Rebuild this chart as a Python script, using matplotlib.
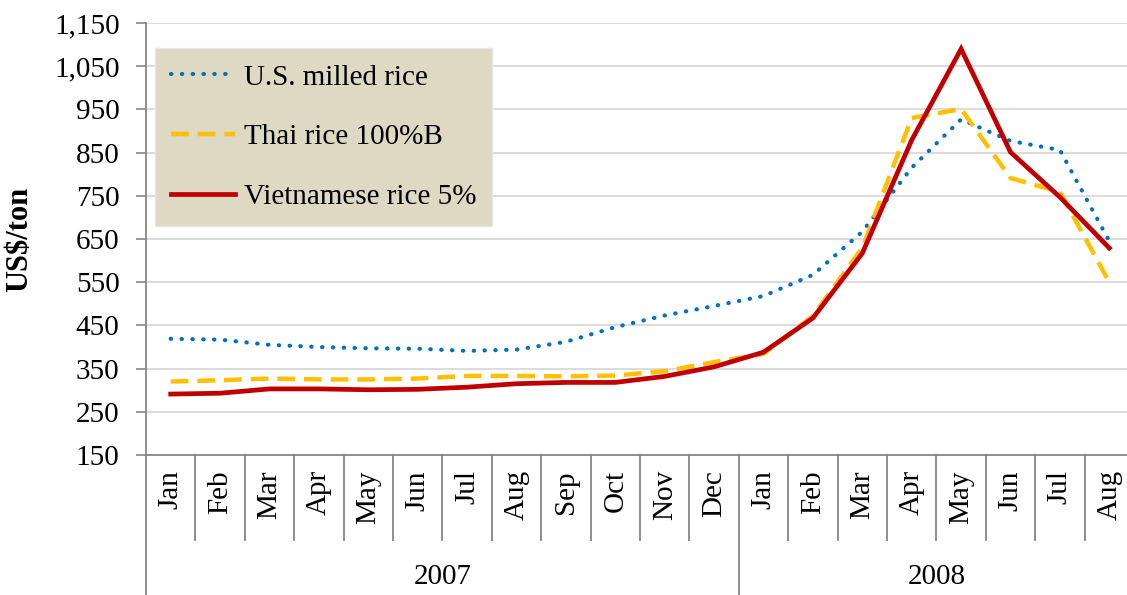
import matplotlib
matplotlib.use("Agg")
import matplotlib.pyplot as plt
import matplotlib.transforms as mtransforms
from matplotlib.ticker import FuncFormatter

months = ["Jan", "Feb", "Mar", "Apr", "May", "Jun", "Jul", "Aug", "Sep", "Oct", "Nov", "Dec",
          "Jan", "Feb", "Mar", "Apr", "May", "Jun", "Jul", "Aug"]
years = ["2007", "2008"]
year_counts = [12, 8]
y_ticks = [150, 250, 350, 450, 550, 650, 750, 850, 950, 1050, 1150]

us_milled = [419, 417, 405, 400, 397, 396, 391, 394, 412, 446, 473, 495,
             518, 567, 667, 815, 927, 877, 856, 645]
thai_100b = [320, 323, 327, 325, 325, 327, 333, 333, 332, 334, 344, 365,
             384, 472, 630, 930, 951, 791, 759, 550]
viet_5 = [291, 293, 303, 303, 301, 302, 307, 315, 318, 318, 332, 354,
          388, 467, 617, 879, 1090, 851, 747, 629]

plt.rcParams["font.family"] = ["Liberation Serif", "DejaVu Serif"]
axis_gray = "#868686"
fs = 21

fig = plt.figure(figsize=(11.27, 5.95), dpi=100)
ax = fig.add_axes([146 / 1127, 140 / 595, 988 / 1127, 432 / 595])

x = list(range(len(months)))
ax.plot(x, us_milled, color="#0070C0", lw=3.0, linestyle=(0, (0.1, 2.5)),
        dash_capstyle="round", label="U.S. milled rice", zorder=3)
ax.plot(x, thai_100b, color="#FFC000", lw=3.2, linestyle=(0, (4.0, 2.0)),
        label="Thai rice 100%B", zorder=3)
ax.plot(x, viet_5, color="#C00000", lw=3.4, solid_joinstyle="miter",
        label="Vietnamese rice 5%", zorder=4)

ax.set_xlim(-0.5, len(months) - 0.5)
ax.set_ylim(150, 1150)
ax.set_yticks(y_ticks)
ax.yaxis.set_major_formatter(FuncFormatter(lambda v, p: f"{v:,.0f}"))
ax.grid(axis="y", color="#D9D9D9", lw=1.3)
ax.set_axisbelow(True)
ax.tick_params(axis="y", direction="out", length=7, width=1.2, color=axis_gray,
               labelsize=fs, pad=12)
ax.tick_params(axis="x", length=0, labelbottom=False)
for side in ["top", "right"]:
    ax.spines[side].set_visible(False)
for side in ["left", "bottom"]:
    ax.spines[side].set_color(axis_gray)
    ax.spines[side].set_linewidth(1.3)

ax.set_ylabel("US$/ton", fontsize=22, fontweight="bold")
ax.yaxis.set_label_coords(-0.113, 0.5)

# two-level category axis
trans = mtransforms.blended_transform_factory(ax.transData, ax.transAxes)
for i, m in enumerate(months):
    ax.text(i, -0.035, m, rotation=90, ha="center", va="top", fontsize=fs,
            transform=trans)
boundaries = [-0.5]
for c in year_counts:
    boundaries.append(boundaries[-1] + c)
for i in range(1, len(months)):
    b = i - 0.5
    if b in boundaries:
        continue
    ax.plot([b, b], [0, -0.197], color=axis_gray, lw=1.3, transform=trans, clip_on=False)
for b in boundaries:
    ax.plot([b, b], [0, -0.33], color=axis_gray, lw=1.3, transform=trans, clip_on=False)
for k, yr in enumerate(years):
    mid = (boundaries[k] + boundaries[k + 1]) / 2
    ax.text(mid, -0.282, yr, ha="center", va="center", fontsize=fs, transform=trans)

leg = ax.legend(loc="upper left", bbox_to_anchor=(0.009, 0.942), borderaxespad=0,
                fontsize=fs, handlelength=2.2, handletextpad=0.3, labelspacing=1.15,
                borderpad=0.55, fancybox=False, framealpha=1)
leg.get_frame().set_facecolor("#DDD9C3")
leg.get_frame().set_edgecolor("#E6E6E6")

fig.savefig("out.png", dpi=100)
